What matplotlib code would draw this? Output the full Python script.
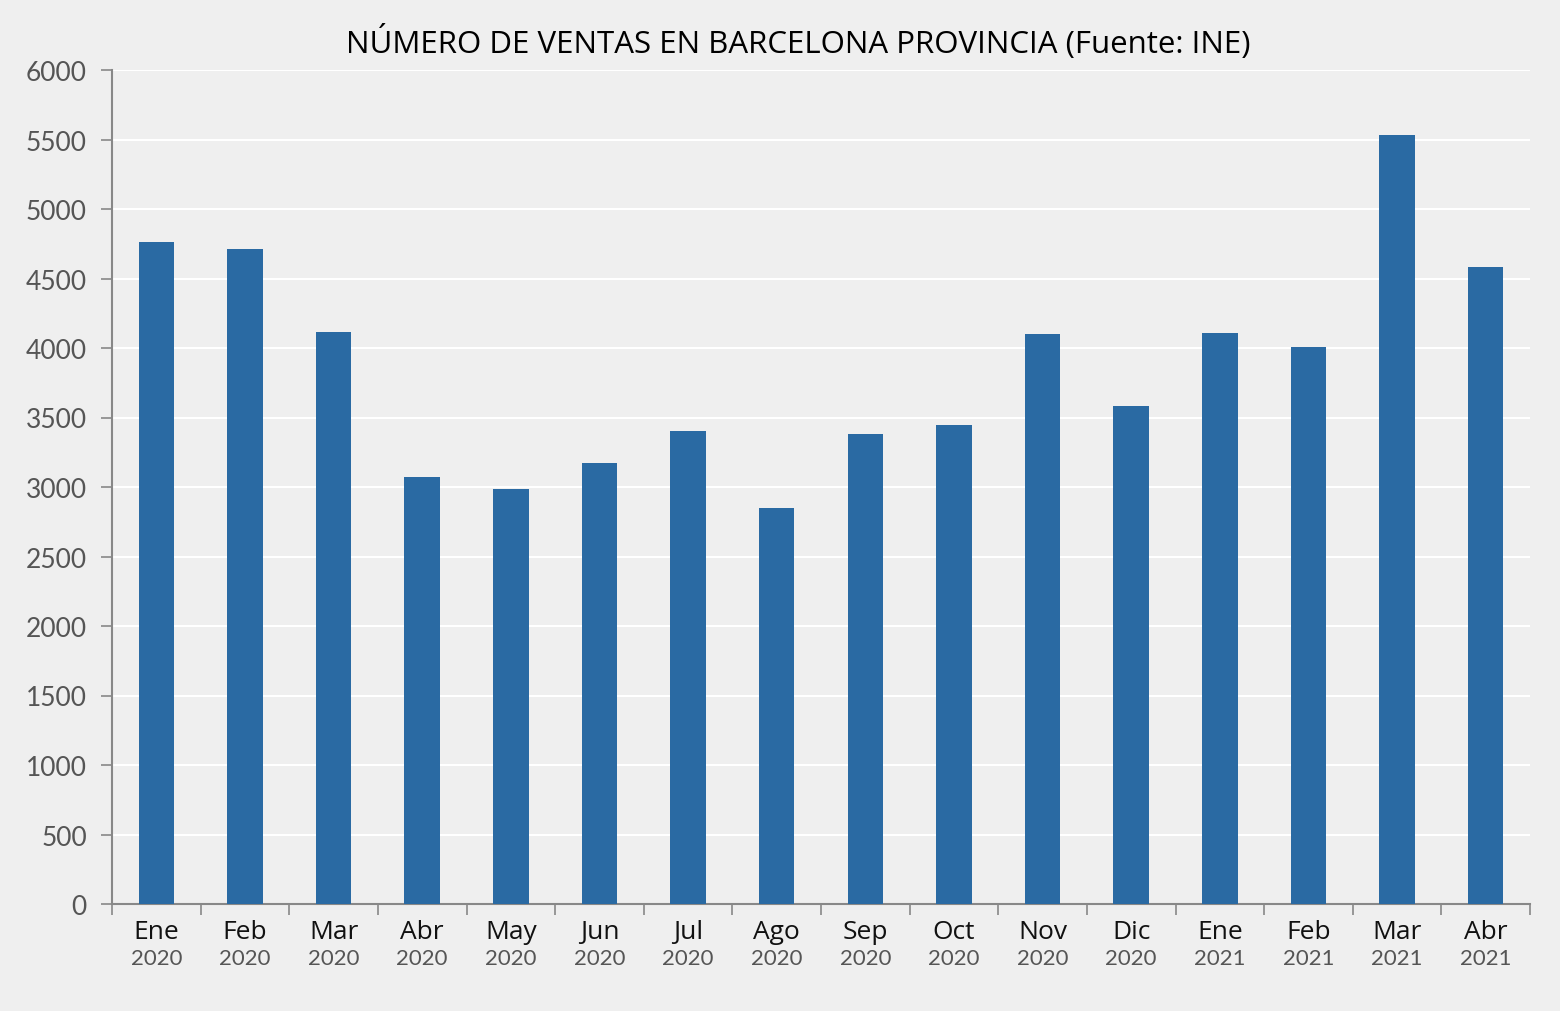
import matplotlib
matplotlib.use('Agg')
import matplotlib.pyplot as plt
import matplotlib.transforms as mtransforms
import numpy as np

# ventas mensuales, provincia de Barcelona (INE)
meses = ['Ene', 'Feb', 'Mar', 'Abr', 'May', 'Jun', 'Jul', 'Ago',
         'Sep', 'Oct', 'Nov', 'Dic', 'Ene', 'Feb', 'Mar', 'Abr']
anios = ['2020'] * 12 + ['2021'] * 4
ventas = [4763, 4712, 4115, 3072, 2986, 3173, 3403, 2849,
          3381, 3446, 4101, 3583, 4108, 4007, 5532, 4583]

bg = '#efefef'
fig = plt.figure(figsize=(15.6, 10.12), dpi=100, facecolor=bg)
ax = fig.add_axes([112/1560, 1 - 905/1012, (1530-112)/1560, (905-71)/1012])
ax.set_facecolor(bg)

x = np.arange(len(ventas))
ax.bar(x, ventas, width=0.40, color='#2a6aa3', zorder=3)

ax.set_ylim(0, 6000)
ax.set_xlim(-0.5, len(ventas) - 0.5)
ax.set_yticks(np.arange(0, 6001, 500))
ax.yaxis.grid(True, color='white', linewidth=1.5, zorder=0)
ax.tick_params(axis='y', labelsize=19, labelcolor='#555555', color='#888888',
               length=8, width=1.2, pad=10)
for lab in ax.get_yticklabels():
    lab.set_family(['Lato', 'DejaVu Sans'])

# marcas entre categorias
ax.set_xticks(np.arange(-0.5, len(ventas), 1))
ax.set_xticklabels([])
ax.tick_params(axis='x', color='#888888', length=8, width=1.2)

for s in ['top', 'right']:
    ax.spines[s].set_visible(False)
for s in ['left', 'bottom']:
    ax.spines[s].set_color('#888888')
    ax.spines[s].set_linewidth(1.5)

trans = mtransforms.blended_transform_factory(ax.transData, fig.transFigure)
for i in range(len(ventas)):
    ax.text(x[i], 1 - 933/1012, meses[i], transform=trans, ha='center', va='center',
            fontsize=19, color='#111111',
            family=['Liberation Sans Narrow', 'Open Sans', 'DejaVu Sans'])
    ax.text(x[i], 1 - 959/1012, anios[i], transform=trans, ha='center', va='center',
            fontsize=16, color='#555555', family=['Lato', 'DejaVu Sans'])

fig.text(0.512, 1 - 43/1012, 'NÚMERO DE VENTAS EN BARCELONA PROVINCIA (Fuente: INE)',
         ha='center', va='center', fontsize=22.5, color='black',
         family=['Liberation Sans Narrow', 'Open Sans', 'DejaVu Sans'])

fig.savefig('out.png', dpi=100, facecolor=bg)
